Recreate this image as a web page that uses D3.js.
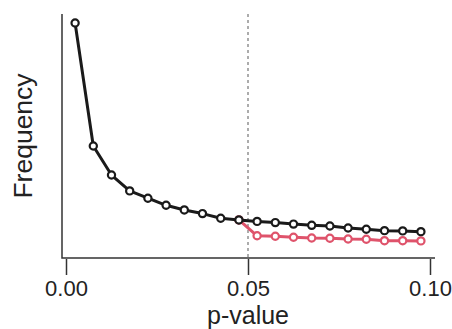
<!DOCTYPE html>
<html>
<head>
<meta charset="utf-8">
<script src="https://cdn.jsdelivr.net/npm/d3@7"></script>
<style>
  html, body { margin: 0; padding: 0; background: #fff; }
  svg { display: block; }
  text { font-family: "Liberation Sans", Arial, sans-serif; fill: #222; }
</style>
</head>
<body>
<svg id="chart" width="452" height="329"></svg>
<script>
// Data (bin centres of p-value histogram, width 0.005)
const pValues = [0.0025, 0.0075, 0.0125, 0.0175, 0.0225, 0.0275, 0.0325, 0.0375, 0.0425, 0.0475,
                 0.0525, 0.0575, 0.0625, 0.0675, 0.0725, 0.0775, 0.0825, 0.0875, 0.0925, 0.0975];
const blackFreq = [963, 459, 340, 275, 245, 216, 197, 182, 163, 156,
                   150, 145, 139, 134, 131, 123, 118, 112, 111, 108];
// red series starts at the 0.0475 bin (shared point) and continues beyond 0.05
const redP = [0.0475, 0.0525, 0.0575, 0.0625, 0.0675, 0.0725, 0.0775, 0.0825, 0.0875, 0.0925, 0.0975];
const redFreq = [156, 91, 89, 85, 82, 81, 78, 77, 71, 71, 70];
const xTicks = [0.00, 0.05, 0.10];
const threshold = 0.05;

const svg = d3.select("#chart");
const x = d3.scaleLinear().domain([0, 0.10]).range([66, 430]);
const y = d3.scaleLinear().domain([0, 1000]).range([258, 14]);

// L-shaped box
svg.append("path")
  .attr("d", `M${62},${14}V${258}H${435}`)
  .attr("fill", "none").attr("stroke", "#333").attr("stroke-width", 1.5);

// x axis ticks and labels (no axis line)
const xAxis = d3.axisBottom(x).tickValues(xTicks).tickFormat(d3.format(".2f")).tickSize(16).tickPadding(5);
const gx = svg.append("g").attr("transform", "translate(0,259)").call(xAxis);
gx.select(".domain").remove();
gx.selectAll(".tick line").attr("stroke", "#333").attr("stroke-width", 1.5);
gx.selectAll(".tick text").attr("font-size", 22).attr("fill", "#222")
  .attr("font-family", "'Liberation Sans', Arial, sans-serif");

// threshold dashed line
svg.append("line")
  .attr("x1", x(threshold)).attr("x2", x(threshold))
  .attr("y1", 14).attr("y2", 258)
  .attr("stroke", "#808080").attr("stroke-width", 1.3).attr("stroke-dasharray", "3,3");

const line = d3.line().x(d => x(d[0])).y(d => y(d[1]));

function series(px, fy, color) {
  const data = px.map((p, i) => [p, fy[i]]);
  svg.append("path").datum(data)
    .attr("d", line).attr("fill", "none")
    .attr("stroke", color).attr("stroke-width", 3).attr("stroke-linejoin", "round");
  svg.append("g").selectAll("circle").data(data).join("circle")
    .attr("cx", d => x(d[0])).attr("cy", d => y(d[1])).attr("r", 3.6)
    .attr("fill", "#fff").attr("stroke", color).attr("stroke-width", 2.2);
}
series(redP, redFreq, "#DF536B");
series(pValues, blackFreq, "#1a1a1a");

// axis titles
svg.append("text")
  .attr("x", x(0.05)).attr("y", 323.5)
  .attr("text-anchor", "middle").attr("font-size", 25)
  .text("p-value");
svg.append("text")
  .attr("transform", `translate(32,${(14 + 258) / 2}) rotate(-90)`)
  .attr("text-anchor", "middle").attr("font-size", 26.5)
  .text("Frequency");
</script>
</body>
</html>
